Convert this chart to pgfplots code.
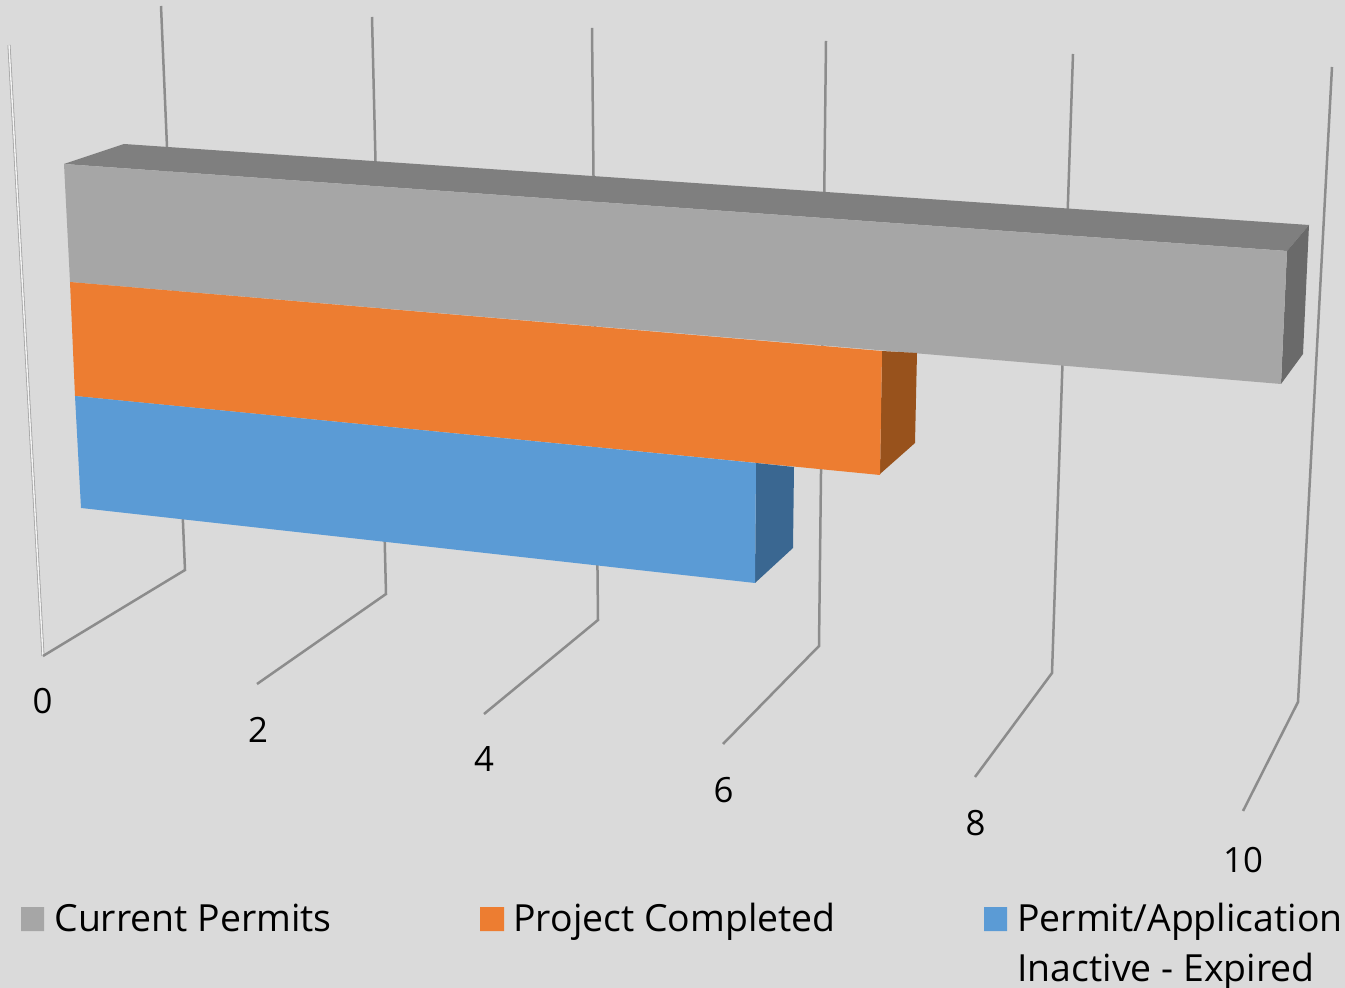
\documentclass[border=0pt]{standalone}
\usepackage{pgfplots}
\pgfplotsset{compat=1.18}
\usepackage{fontspec}
\setmainfont{Open Sans}
\definecolor{bgc}{HTML}{DADADA}
\definecolor{gridc}{HTML}{8C8C8C}
\definecolor{grayF}{HTML}{A6A6A6}
\definecolor{grayT}{HTML}{7F7F7F}
\definecolor{grayR}{HTML}{6A6A6A}
\definecolor{orgF}{HTML}{ED7D31}
\definecolor{orgR}{HTML}{98521C}
\definecolor{bluF}{HTML}{5B9BD5}
\definecolor{bluR}{HTML}{3A6791}
\begin{document}
\begin{tikzpicture}
\begin{axis}[
  scale only axis, width=672.5pt, height=494pt,
  xmin=0, xmax=1345, ymin=0, ymax=988, y dir=reverse,
  hide axis, clip=true,
  every axis plot/.append style={no markers},
]
% background
\addplot[fill=bgc, draw=none] coordinates {(0,0) (1345,0) (1345,988) (0,988) (0,0)};
% wall line at 0
\addplot[color=gridc!80, line width=1.5pt] coordinates {(9,45) (43,656)};
\addplot[color=white!90!gridc, line width=0.7pt] coordinates {(9,45) (43,656)};
% gridlines
\addplot[color=gridc, line width=1.25pt] coordinates {(43,656) (185,570) (161,6)};
\addplot[color=gridc, line width=1.25pt] coordinates {(257,684) (386,594) (372,17)};
\addplot[color=gridc, line width=1.25pt] coordinates {(484,714) (598,620) (592,28)};
\addplot[color=gridc, line width=1.25pt] coordinates {(723,744) (819,646) (826,41)};
\addplot[color=gridc, line width=1.25pt] coordinates {(975,777) (1052,673) (1073,54)};
\addplot[color=gridc, line width=1.25pt] coordinates {(1243,811) (1298,702) (1332,67)};
% Current Permits
\addplot[fill=grayT, draw=none] coordinates {(64,164) (124,144) (1309,225) (1287,251) (64,164)};
\addplot[fill=grayR, draw=none] coordinates {(1287,251) (1309,225) (1303,354) (1281,384) (1287,251)};
\addplot[fill=grayF, draw=none] coordinates {(64,164) (1287,251) (1281,384) (70,282) (64,164)};
% Project Completed
\addplot[fill=orgR, draw=none] coordinates {(882,351) (917,353) (915,443) (880,474) (882,351)};
\addplot[fill=orgF, draw=none] coordinates {(70,282) (882,351) (880,475) (75,396) (70,282)};
% Permit/Application Inactive - Expired
\addplot[fill=bluR, draw=none] coordinates {(756,463) (794,467) (793,548) (755,583) (756,463)};
\addplot[fill=bluF, draw=none] coordinates {(75,396) (756,463) (755,583) (81,508) (75,396)};
% legend swatches
\addplot[fill=grayF, draw=none] coordinates {(21,907) (44,907) (44,931) (21,931) (21,907)};
\addplot[fill=orgF, draw=none] coordinates {(480,907) (504,907) (504,931) (480,931) (480,907)};
\addplot[fill=bluF, draw=none] coordinates {(984,907) (1007,907) (1007,931) (984,931) (984,907)};
% tick labels
\node[font=\fontsize{17.4}{20}\selectfont, anchor=center] at (axis cs:42.5,701) {0};
\node[font=\fontsize{17.4}{20}\selectfont, anchor=center] at (axis cs:258,730) {2};
\node[font=\fontsize{17.4}{20}\selectfont, anchor=center] at (axis cs:484,759) {4};
\node[font=\fontsize{17.4}{20}\selectfont, anchor=center] at (axis cs:723.5,790) {6};
\node[font=\fontsize{17.4}{20}\selectfont, anchor=center] at (axis cs:975.5,823) {8};
\node[font=\fontsize{17.4}{20}\selectfont, anchor=center] at (axis cs:1243,860) {10};
% legend text
\node[font=\fontsize{18.7}{22}\selectfont, anchor=base west, inner sep=0pt] at (axis cs:54,931) {Current Permits};
\node[font=\fontsize{18.7}{22}\selectfont, anchor=base west, inner sep=0pt] at (axis cs:513,931) {Project Completed};
\node[font=\fontsize{18.7}{22}\selectfont, anchor=base west, inner sep=0pt] at (axis cs:1017,931) {Permit/Application};
\node[font=\fontsize{18.7}{22}\selectfont, anchor=base west, inner sep=0pt] at (axis cs:1017,981) {Inactive - Expired};
\end{axis}
\end{tikzpicture}
\end{document}
